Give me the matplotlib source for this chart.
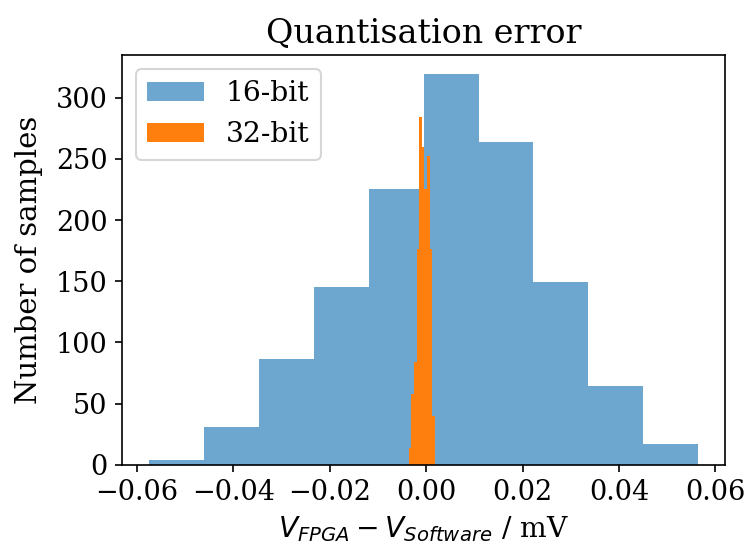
import numpy as np
import matplotlib
matplotlib.use("Agg")
import matplotlib.pyplot as plt

plt.rcParams['font.family'] = ['DejaVu Serif']
plt.rcParams['font.size'] = 14

# 16-bit histogram
b16_min, b16_max = -0.0574, 0.0564
counts_16 = [4, 31, 86, 145, 225, 319, 264, 149, 64, 17]
# 32-bit histogram
b32_min, b32_max = -0.00363, 0.00182
counts_32 = [14, 58, 84, 176, 284, 260, 225, 252, 176, 40]

edges_16 = np.linspace(b16_min, b16_max, len(counts_16) + 1)
edges_32 = np.linspace(b32_min, b32_max, len(counts_32) + 1)

fig = plt.figure(figsize=(4.98, 3.68), dpi=150)
ax = fig.add_axes([0.1633, 0.1582, 0.9712 - 0.1633, 0.9004 - 0.1582])

ax.hist(edges_16[:-1], bins=edges_16, weights=counts_16, alpha=0.65,
        color='#1f77b4', label='16-bit')
ax.hist(edges_32[:-1], bins=edges_32, weights=counts_32,
        color='#ff7f0e', label='32-bit')

ax.set_yticks([0, 50, 100, 150, 200, 250, 300])
ax.set_xticks([-0.06, -0.04, -0.02, 0.0, 0.02, 0.04, 0.06])
ax.tick_params(labelsize=13)
ax.set_title('Quantisation error', fontsize=16)
ax.set_ylabel('Number of samples', fontsize=14, labelpad=6)
ax.set_xlabel(r'$V_{FPGA} - V_{Software}$ / mV', fontsize=13.5)
ax.legend(loc='upper left', fontsize=13.5, borderaxespad=0.5)

fig.savefig('out.png', dpi=150)
